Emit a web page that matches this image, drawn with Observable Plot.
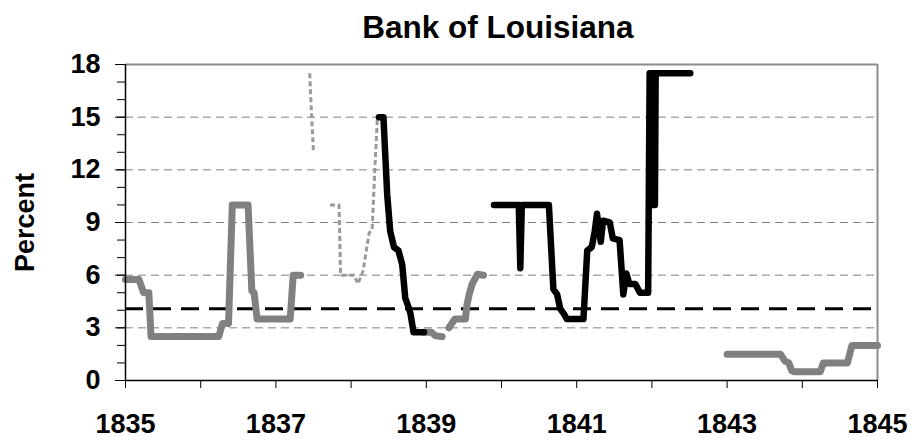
<!DOCTYPE html>
<html>
<head>
<meta charset="utf-8">
<script src="https://cdn.jsdelivr.net/npm/d3@7"></script>
<script src="https://cdn.jsdelivr.net/npm/@observablehq/plot@0.6"></script>
<style>
  body { margin: 0; background: #fff; font-family: "Liberation Sans", Arial, sans-serif; }
  #title { width: 916px; height: 48px; line-height: 54px; text-align: center; font-weight: bold; font-size: 31.5px; color: #000; overflow: visible; box-sizing: border-box; padding-left: 80px; }
</style>
</head>
<body>
<div id="title">Bank of Louisiana</div>
<div id="chart"></div>
<script>
// Tick labels
const xTickYears = [1835, 1837, 1839, 1841, 1843, 1845];
const xMinorYears = [1835, 1836, 1837, 1838, 1839, 1840, 1841, 1842, 1843, 1844, 1845];
const yTickValues = [0, 3, 6, 9, 12, 15, 18];
const yMinorValues = [0,1,2,3,4,5,6,7,8,9,10,11,12,13,14,15,16,17,18];
const gridValues = [3, 6, 9, 12, 15];
const referenceValue = 4.08;

// Gray thick series (null = gap)
const grayYears = [1835.00, 1835.18, 1835.24, 1835.31, 1835.34, 1836.24, 1836.29, 1836.37, 1836.42, 1836.63, 1836.68, 1836.71, 1836.75, 1837.19, 1837.23, 1837.33,
  1837.40,
  1838.97, 1839.07, 1839.12, 1839.21,
  1839.25,
  1839.30, 1839.38, 1839.52, 1839.54, 1839.57, 1839.61, 1839.68, 1839.76,
  1840.00,
  1843.00, 1843.71, 1843.77, 1843.82, 1843.86, 1843.89, 1844.24, 1844.28, 1844.60, 1844.66, 1845.00];
const grayValues = [5.75, 5.75, 5.0, 5.0, 2.5, 2.5, 3.25, 3.25, 10.0, 10.0, 5.1, 5.0, 3.5, 3.5, 6.0, 6.0,
  null,
  2.75, 2.75, 2.55, 2.5,
  null,
  3.0, 3.5, 3.5, 4.3, 4.9, 5.5, 6.05, 6.0,
  null,
  1.5, 1.5, 1.1, 1.0, 0.55, 0.5, 0.5, 1.0, 1.0, 2.0, 2.0];

// Light gray dotted series
const dottedYears = [1837.45, 1837.47, 1837.50, 1837.60, 1837.72, 1837.84, 1837.86, 1838.04, 1838.09, 1838.16, 1838.24, 1838.28, 1838.31, 1838.35];
const dottedValues = [17.5, 15.5, 13.0, null, 10.0, 10.0, 6.0, 6.0, 5.5, 6.25, 8.4, 8.6, 11.5, 15.0];

// Black thick series
const blackYears = [1838.37, 1838.43, 1838.48, 1838.52, 1838.57, 1838.63, 1838.68, 1838.72, 1838.77, 1838.79, 1838.83, 1838.97,
  1839.40,
  1839.90, 1840.23, 1840.25, 1840.27, 1840.63, 1840.69, 1840.74, 1840.78, 1840.83, 1840.87, 1841.09, 1841.14, 1841.20, 1841.24, 1841.27, 1841.30, 1841.32, 1841.35, 1841.44, 1841.48, 1841.57, 1841.62, 1841.66, 1841.70, 1841.78, 1841.84, 1841.95,
  1841.97, 1841.98, 1841.99, 1842.00, 1842.01, 1842.02, 1842.03, 1842.04, 1842.05, 1842.51];
const blackValues = [15.0, 15.0, 10.6, 8.5, 7.6, 7.4, 6.6, 4.7, 4.1, 3.8, 2.75, 2.75,
  null,
  10.0, 10.0, 6.4, 10.0, 10.0, 5.2, 4.9, 4.1, 3.8, 3.5, 3.5, 7.4, 7.6, 8.5, 9.5, 8.5, 7.9, 9.1, 9.0, 8.1, 8.0, 4.9, 6.1, 5.5, 5.5, 5.0, 5.0,
  17.5, 10.0, 17.5, 10.0, 17.5, 10.0, 17.5, 10.0, 17.5, 17.5];

const toRows = (xs, ys) => xs.map((x, i) => ({x, y: ys[i]}));
const gray = toRows(grayYears, grayValues);
const dotted = toRows(dottedYears, dottedValues);
const black = toRows(blackYears, blackValues);

const font = '"Liberation Sans", Arial, sans-serif';

const chart = Plot.plot({
  width: 916,
  height: 396,
  marginTop: 16,
  marginLeft: 125,
  marginRight: 39,
  marginBottom: 64,
  style: {fontFamily: font, background: "#fff", overflow: "visible"},
  x: {domain: [1835, 1845], axis: null},
  y: {domain: [0, 18], axis: null},
  marks: [
    Plot.ruleY(gridValues, {stroke: "#808080", strokeWidth: 1, strokeDasharray: "8,5"}),
    Plot.ruleY([18], {stroke: "#8c8c8c", strokeWidth: 2}),
    Plot.ruleX([1845], {stroke: "#8c8c8c", strokeWidth: 2}),
    Plot.ruleY([referenceValue], {stroke: "#000", strokeWidth: 3, strokeDasharray: "18,10"}),
    Plot.line(dotted, {x: "x", y: "y", stroke: "#9a9a9a", strokeWidth: 3, strokeDasharray: "5,3", strokeLinecap: "butt", curve: "linear"}),
    Plot.line(gray, {x: "x", y: "y", stroke: "#808080", strokeWidth: 7, strokeLinecap: "round", strokeLinejoin: "round"}),
    Plot.line(black, {x: "x", y: "y", stroke: "#000", strokeWidth: 6.5, strokeLinecap: "round", strokeLinejoin: "round"}),
    // axes
    Plot.axisY({ticks: yMinorValues, tickSize: 8, tickFormat: () => "", stroke: "#000", label: null}),
    Plot.axisY({ticks: yTickValues, tickSize: 10, tickFormat: () => "", stroke: "#000", label: null}),
    Plot.axisY({ticks: yTickValues, tickSize: 0, tickPadding: 25, tickFormat: d => String(d), fontSize: 27, fontWeight: "bold", fontFamily: font, fill: "#000", label: null}),
    Plot.axisX({ticks: xMinorYears, tickSize: 8, tickFormat: () => "", stroke: "#000", label: null}),
    Plot.axisX({ticks: xTickYears, tickSize: 0, tickPadding: 33, tickFormat: d => String(d), fontSize: 27, fontWeight: "bold", fontFamily: font, fill: "#000", label: null}),
    Plot.ruleX([1835], {stroke: "#000", strokeWidth: 1.5}),
    Plot.ruleY([0], {stroke: "#000", strokeWidth: 1.5}),
    Plot.text(["Percent"], {frameAnchor: "left", dx: -100, rotate: -90, textAnchor: "middle", fontSize: 27, fontWeight: "bold", fontFamily: font, fill: "#000"})
  ]
});
document.getElementById("chart").appendChild(chart);
</script>
</body>
</html>
